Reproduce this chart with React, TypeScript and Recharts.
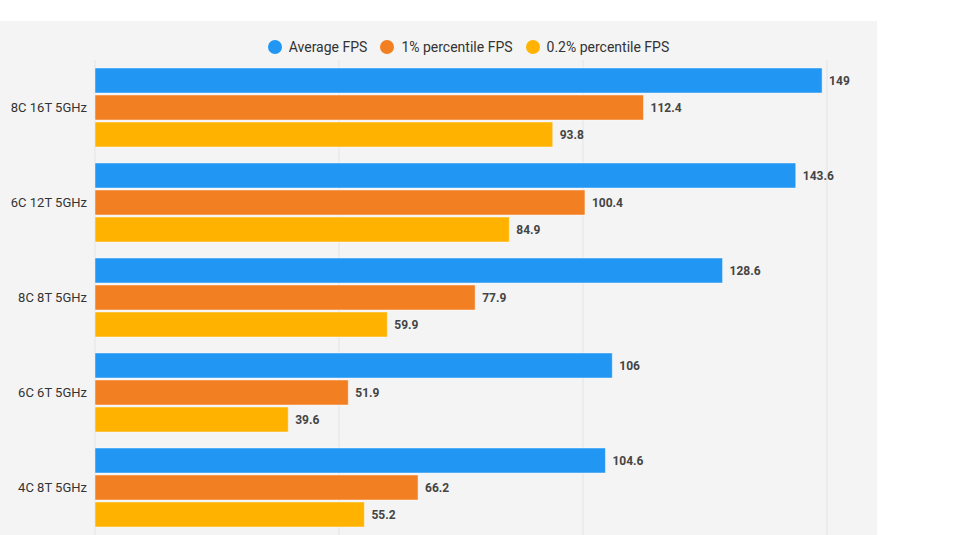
import React from 'react';
import {
  BarChart,
  Bar,
  XAxis,
  YAxis,
  CartesianGrid,
  Legend,
  LabelList
} from 'recharts';

const categories = ['8C 16T 5GHz', '6C 12T 5GHz', '8C 8T 5GHz', '6C 6T 5GHz', '4C 8T 5GHz'];
const averageFps = [149, 143.6, 128.6, 106, 104.6];
const p1Fps = [112.4, 100.4, 77.9, 51.9, 66.2];
const p02Fps = [93.8, 84.9, 59.9, 39.6, 55.2];
const xTicks = [0, 50, 100, 150];

const series = [
  { key: 'avg', name: 'Average FPS', color: '#2196f3' },
  { key: 'p1', name: '1% percentile FPS', color: '#f27f22' },
  { key: 'p02', name: '0.2% percentile FPS', color: '#ffb300' }
];

const data = categories.map((name, i) => ({
  name,
  avg: averageFps[i],
  p1: p1Fps[i],
  p02: p02Fps[i]
}));

const FONT = 'Roboto, "Noto Sans", sans-serif';

const CustomLegend = () => (
  <div
    style={{
      display: 'flex',
      justifyContent: 'center',
      alignItems: 'center',
      paddingLeft: 73,
      fontFamily: FONT,
      fontSize: 14,
      lineHeight: '16px',
      color: '#333'
    }}
  >
    {series.map((s) => (
      <div key={s.key} style={{ display: 'flex', alignItems: 'center', marginRight: 13 }}>
        <span
          style={{
            display: 'inline-block',
            width: 14,
            height: 14,
            borderRadius: '50%',
            background: s.color,
            marginRight: 7
          }}
        />
        <span>{s.name}</span>
      </div>
    ))}
  </div>
);

const App = () => {
  return (
    <div style={{ position: 'absolute', left: 0, top: 0, width: 963, height: 535, background: '#fff' }}>
      <div style={{ position: 'absolute', left: 0, top: 21, width: 877, height: 514, background: '#f4f4f4' }}>
        <BarChart
          width={877}
          height={514}
          data={data}
          layout="vertical"
          margin={{ top: 23, right: 50, left: 0, bottom: 0 }}
          barSize={25}
          barGap={2}
        >
          <CartesianGrid horizontal={false} stroke="#e4e4e4" />
          <XAxis type="number" domain={[0, 150]} ticks={xTicks} hide />
          <YAxis
            type="category"
            dataKey="name"
            width={95}
            axisLine={false}
            tickLine={false}
            tick={{ fill: '#333', fontSize: 13, fontFamily: FONT }}
          />
          <Legend
            verticalAlign="top"
            content={<CustomLegend />}
            wrapperStyle={{ top: 18, left: 0, width: 877 }}
          />
          {series.map((s) => (
            <Bar
              key={s.key}
              dataKey={s.key}
              name={s.name}
              fill={s.color}
              stroke="#ffffff"
              strokeOpacity={0.45}
              strokeWidth={1}
              isAnimationActive={false}
            >
              <LabelList
                dataKey={s.key}
                position="right"
                offset={7}
                style={{ fill: '#444', fontSize: 12, fontWeight: 700, fontFamily: FONT }}
              />
            </Bar>
          ))}
        </BarChart>
      </div>
    </div>
  );
};

export default App;
